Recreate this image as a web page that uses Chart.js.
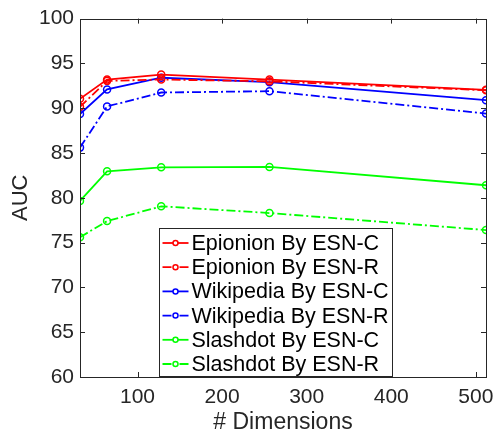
<!DOCTYPE html>
<html>
<head>
<meta charset="utf-8">
<script src="https://cdn.jsdelivr.net/npm/chart.js@4.4.0/dist/chart.umd.min.js"></script>
<style>
    body { margin: 0; background: #fff; }
    #wrap { width: 493px; height: 437px; }
</style>
</head>
<body>
<div id="wrap"><canvas id="lineChart" width="493" height="437"></canvas></div>
<script>
// data
var dimensions = [32, 64, 128, 256, 512];
var xTicks = [100, 200, 300, 400, 500];
var epinionC = [91.05, 93.2, 93.75, 93.2, 92.05];
var epinionR = [90.15, 93.05, 93.2, 93.0, 92.0];
var wikipediaC = [89.35, 92.1, 93.4, 92.9, 90.9];
var wikipediaR = [85.6, 90.2, 91.75, 91.9, 89.4];
var slashdotC = [79.65, 82.95, 83.4, 83.45, 81.4];
var slashdotR = [75.6, 77.4, 79.05, 78.3, 76.4];
var seriesLabels = ['Epionion By ESN-C', 'Epionion By ESN-R', 'Wikipedia By ESN-C',
    'Wikipedia By ESN-R', 'Slashdot By ESN-C', 'Slashdot By ESN-R'];

var app = {};
app.Main = {
    axisColor: '#262626',
    dashDot: [9, 3, 2, 3],
    init: function () {
        var file = this;
        file.lineChartAuc();
    },
    makeSet: function (label, values, color, dashed) {
        return {
            label: label,
            data: values.map(function (v, i) { return { x: dimensions[i], y: v }; }),
            borderColor: color,
            backgroundColor: color,
            borderWidth: 1.8,
            borderDash: dashed ? this.dashDot : [],
            pointRadius: 3.5,
            pointBorderWidth: 1.5,
            pointBackgroundColor: 'rgba(0,0,0,0)',
            pointBorderColor: color,
            tension: 0,
            fill: false
        };
    },
    lineChartAuc: function () {
        var file = this;
        var axisColor = file.axisColor;

        // inward ticks + box frame like matlab
        var framePlugin = {
            id: 'frame',
            afterDraw: function (chart) {
                var ctx = chart.ctx;
                var ca = chart.chartArea;
                var xs = chart.scales.x;
                var ys = chart.scales.y;
                var len = 5;
                ctx.save();
                ctx.strokeStyle = axisColor;
                ctx.lineWidth = 1;
                ctx.beginPath();
                xs.ticks.forEach(function (t) {
                    var px = Math.round(xs.getPixelForValue(t.value)) + 0.5;
                    ctx.moveTo(px, ca.bottom);
                    ctx.lineTo(px, ca.bottom - len);
                    ctx.moveTo(px, ca.top);
                    ctx.lineTo(px, ca.top + len);
                });
                ys.ticks.forEach(function (t) {
                    var py = Math.round(ys.getPixelForValue(t.value)) + 0.5;
                    ctx.moveTo(ca.left, py);
                    ctx.lineTo(ca.left + len, py);
                    ctx.moveTo(ca.right, py);
                    ctx.lineTo(ca.right - len, py);
                });
                ctx.stroke();
                ctx.strokeRect(Math.round(ca.left) + 0.5, Math.round(ca.top) + 0.5,
                    Math.round(ca.right - ca.left), Math.round(ca.bottom - ca.top));
                ctx.restore();
            }
        };

        // legend box inside the axes, bottom middle
        var legendPlugin = {
            id: 'boxLegend',
            afterDraw: function (chart) {
                var ctx = chart.ctx;
                var ca = chart.chartArea;
                var sets = chart.data.datasets;
                var w = 233, h = 148;
                var left = Math.round(ca.left + 79) + 0.5;
                var top = Math.round(ca.bottom - 1 - h) + 0.5;
                ctx.save();
                ctx.fillStyle = '#fff';
                ctx.fillRect(left, top, w, h);
                ctx.strokeStyle = axisColor;
                ctx.lineWidth = 1;
                ctx.strokeRect(left, top, w, h);
                ctx.font = '21.5px "Liberation Sans", Arial, sans-serif';
                ctx.textBaseline = 'middle';
                sets.forEach(function (ds, i) {
                    var cy = top + 14.5 + i * 24.2;
                    ctx.strokeStyle = ds.borderColor;
                    ctx.lineWidth = 1.8;
                    ctx.setLineDash(ds.borderDash);
                    ctx.beginPath();
                    ctx.moveTo(left + 3, cy);
                    ctx.lineTo(left + 29, cy);
                    ctx.stroke();
                    ctx.setLineDash([]);
                    ctx.lineWidth = 1.5;
                    ctx.fillStyle = '#fff';
                    ctx.beginPath();
                    ctx.arc(left + 16, cy, 2.5, 0, Math.PI * 2);
                    ctx.fill();
                    ctx.stroke();
                    ctx.fillStyle = '#000';
                    ctx.fillText(ds.label, left + 32, cy + 1);
                });
                ctx.restore();
            }
        };

        var lineChartData = {
            datasets: [
                file.makeSet(seriesLabels[0], epinionC, '#ff0000', false),
                file.makeSet(seriesLabels[1], epinionR, '#ff0000', true),
                file.makeSet(seriesLabels[2], wikipediaC, '#0000ff', false),
                file.makeSet(seriesLabels[3], wikipediaR, '#0000ff', true),
                file.makeSet(seriesLabels[4], slashdotC, '#00ff00', false),
                file.makeSet(seriesLabels[5], slashdotR, '#00ff00', true)
            ]
        };

        var tickFont = { family: '"Liberation Sans", Arial, sans-serif', size: 21 };
        var lineChartOptions = {
            responsive: false,
            animation: false,
            layout: { padding: { top: 16, right: 7, left: 0, bottom: 0 } },
            plugins: {
                legend: { display: false },
                tooltip: { enabled: false }
            },
            scales: {
                x: {
                    type: 'linear',
                    min: 32,
                    max: 512,
                    afterBuildTicks: function (scale) {
                        scale.ticks = xTicks.map(function (v) { return { value: v }; });
                    },
                    afterFit: function (scale) {
                        scale.height = 60;
                        scale.paddingLeft = 0;
                        scale.paddingRight = 0;
                    },
                    grid: { display: false, drawTicks: false },
                    border: { display: false },
                    ticks: { color: axisColor, font: tickFont, padding: 8, maxRotation: 0 },
                    title: {
                        display: true,
                        text: '# Dimensions',
                        color: axisColor,
                        font: { family: '"Liberation Sans", Arial, sans-serif', size: 23 },
                        padding: { top: 0, bottom: 1 }
                    }
                },
                y: {
                    min: 60,
                    max: 100,
                    ticks: { stepSize: 5, color: axisColor, font: tickFont, padding: 6 },
                    afterFit: function (scale) { scale.width = 80; },
                    grid: { display: false, drawTicks: false },
                    border: { display: false },
                    title: {
                        display: true,
                        text: 'AUC',
                        color: axisColor,
                        font: { family: '"Liberation Sans", Arial, sans-serif', size: 22 },
                        padding: { top: 8, bottom: 0 }
                    }
                }
            }
        };

        var lineChartCanvas = document.getElementById('lineChart').getContext('2d');
        new Chart(lineChartCanvas, {
            type: 'line',
            data: lineChartData,
            options: lineChartOptions,
            plugins: [framePlugin, legendPlugin]
        });
    }
};

app.Main.init();
</script>
</body>
</html>
